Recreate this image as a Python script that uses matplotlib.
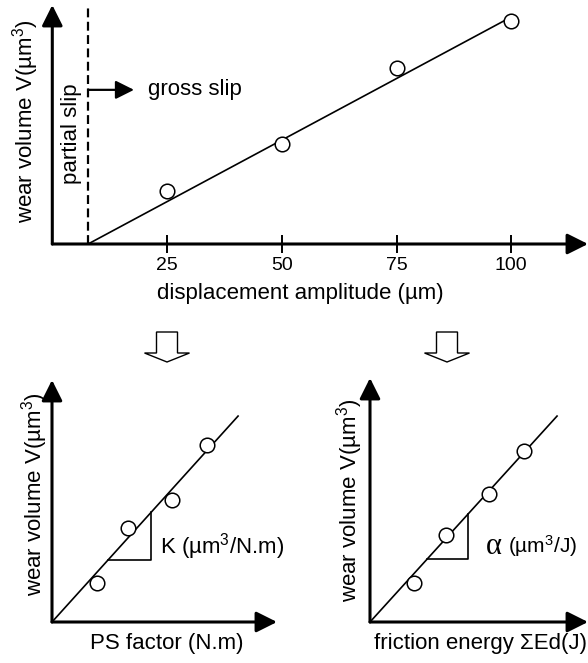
import matplotlib
matplotlib.use("Agg")
import matplotlib.pyplot as plt
from matplotlib.patches import Polygon

plt.rcParams['font.family'] = ['Liberation Sans', 'DejaVu Sans']
plt.rcParams['mathtext.fontset'] = 'custom'
plt.rcParams['mathtext.rm'] = 'Liberation Sans'
plt.rcParams['mathtext.it'] = 'Liberation Sans:italic'
plt.rcParams['mathtext.bf'] = 'Liberation Sans:bold'

W, H = 588, 663

# top chart: wear volume (relative) vs displacement amplitude
amplitude = [25, 50, 75, 100]
volume = [0.222, 0.418, 0.736, 0.933]
transition = 7.8
fit_amp = [7.8, 100]
fit_vol = [0.0, 0.95]

# bottom left: wear volume vs PS factor (relative units)
ps_factor = [0.20, 0.338, 0.533, 0.689]
ps_volume = [0.161, 0.388, 0.504, 0.731]
ps_fit_x = [0, 0.827]
ps_fit_y = [0, 0.851]
ps_tri_x = [0.249, 0.44, 0.44]
ps_tri_y = [0.258, 0.258, 0.453]

# bottom right: wear volume vs friction energy (relative units)
energy = [0.202, 0.349, 0.546, 0.706]
en_volume = [0.160, 0.357, 0.525, 0.701]
en_fit_x = [0, 0.858]
en_fit_y = [0, 0.844]
en_tri_x = [0.261, 0.45, 0.45]
en_tri_y = [0.257, 0.257, 0.443]

FS = 16
CUBE = r'$^{\mathrm{3}}$'
VLABEL = 'wear volume V(µm' + CUBE + ')'


def px_axes(fig, x0, y0, x1, y1):
    # origin pixel (x0,y0), top right pixel (x1,y1)
    return fig.add_axes([x0 / W, 1 - y0 / H, (x1 - x0) / W, (y0 - y1) / H])


def arrow_axes(ax):
    for s in ax.spines.values():
        s.set_visible(False)
    ap = dict(arrowstyle='-|>,head_length=0.7,head_width=0.35', lw=2.2,
              color='k', shrinkA=0, shrinkB=0, mutation_scale=18)
    ax.annotate('', xy=(1, 0), xytext=(0, 0), xycoords='axes fraction', arrowprops=ap)
    ax.annotate('', xy=(0, 1), xytext=(0, 0), xycoords='axes fraction', arrowprops=ap)
    ax.patch.set_visible(False)


def fig_text(x, y, s, **kw):
    fig.text(x / W, 1 - y / H, s, **kw)


fig = plt.figure(figsize=(W / 100, H / 100), dpi=100)

# ---- top
ax = px_axes(fig, 52.3, 244, 588, 5)
arrow_axes(ax)
ax.set_xlim(0, (588 - 52.3) / 4.59)
ax.set_ylim(0, 1)
ax.plot(fit_amp, fit_vol, color='k', lw=1.2)
ax.plot(amplitude, volume, 'o', ms=10.5, mfc='white', mec='k', mew=1.1)
ax.axvline(transition, ymax=1.0, color='k', lw=1.6, ls=(0, (4, 2)))
ax.annotate('', xy=(transition + 10.0, 0.645), xytext=(transition, 0.645),
            arrowprops=dict(arrowstyle='-|>,head_length=0.7,head_width=0.35',
                            lw=1.6, color='k', shrinkA=0, shrinkB=0, mutation_scale=16))
ax.text(transition + 13.0, 0.645, 'gross slip', fontsize=FS, va='center', ha='left')
ax.text(4.2, 0.46, 'partial slip', fontsize=FS, rotation=90, va='center', ha='center')
ax.set_xticks(amplitude)
ax.set_xticklabels([str(a) for a in amplitude], fontsize=14)
ax.set_yticks([])
ax.tick_params(axis='x', direction='inout', length=13, width=1.4, pad=3)
fig_text(26, 121, VLABEL, fontsize=FS, rotation=90, ha='center', va='center')
fig_text(300, 293, 'displacement amplitude (µm)', fontsize=FS, ha='center', va='center')

# ---- bottom left
ax2 = px_axes(fig, 52, 622, 277, 380)
arrow_axes(ax2)
ax2.set_xlim(0, 1)
ax2.set_ylim(0, 1)
ax2.set_xticks([])
ax2.set_yticks([])
ax2.plot(ps_fit_x, ps_fit_y, color='k', lw=1.2)
ax2.plot(ps_tri_x, ps_tri_y, color='k', lw=1.2)
ax2.plot(ps_factor, ps_volume, 'o', ms=10.5, mfc='white', mec='k', mew=1.1)
ax2.text(0.48, 0.31, 'K (µm' + CUBE + '/N.m)', fontsize=FS, va='center', ha='left')
fig_text(35, 494, VLABEL, fontsize=FS, rotation=90, ha='center', va='center')
fig_text(167, 643, 'PS factor (N.m)', fontsize=FS, ha='center', va='center')

# ---- bottom right
ax3 = px_axes(fig, 370, 622, 588, 378)
arrow_axes(ax3)
ax3.set_xlim(0, 1)
ax3.set_ylim(0, 1)
ax3.set_xticks([])
ax3.set_yticks([])
ax3.plot(en_fit_x, en_fit_y, color='k', lw=1.2)
ax3.plot(en_tri_x, en_tri_y, color='k', lw=1.2)
ax3.plot(energy, en_volume, 'o', ms=10.5, mfc='white', mec='k', mew=1.1)
ax3.text(0.53, 0.31, 'α', fontsize=22, family=['Liberation Serif', 'DejaVu Serif'],
         va='center', ha='left')
ax3.text(0.635, 0.31, '(µm' + CUBE + '/J)', fontsize=15, va='center', ha='left')
fig_text(350, 500, VLABEL, fontsize=FS, rotation=90, ha='center', va='center')
fig_text(480, 643, 'friction energy ΣEd(J)', fontsize=FS, ha='center', va='center')

# hollow block arrows between the panels
for cx in (167, 447):
    pts = [(cx - 10.5, 332), (cx + 10.5, 332), (cx + 10.5, 353), (cx + 22.5, 353),
           (cx, 362), (cx - 22.5, 353), (cx - 10.5, 353)]
    pts = [(x / W, 1 - y / H) for x, y in pts]
    fig.patches.append(Polygon(pts, closed=True, fill=False, ec='k', lw=1.0,
                               transform=fig.transFigure, figure=fig))

fig.savefig('out.png', dpi=100)
